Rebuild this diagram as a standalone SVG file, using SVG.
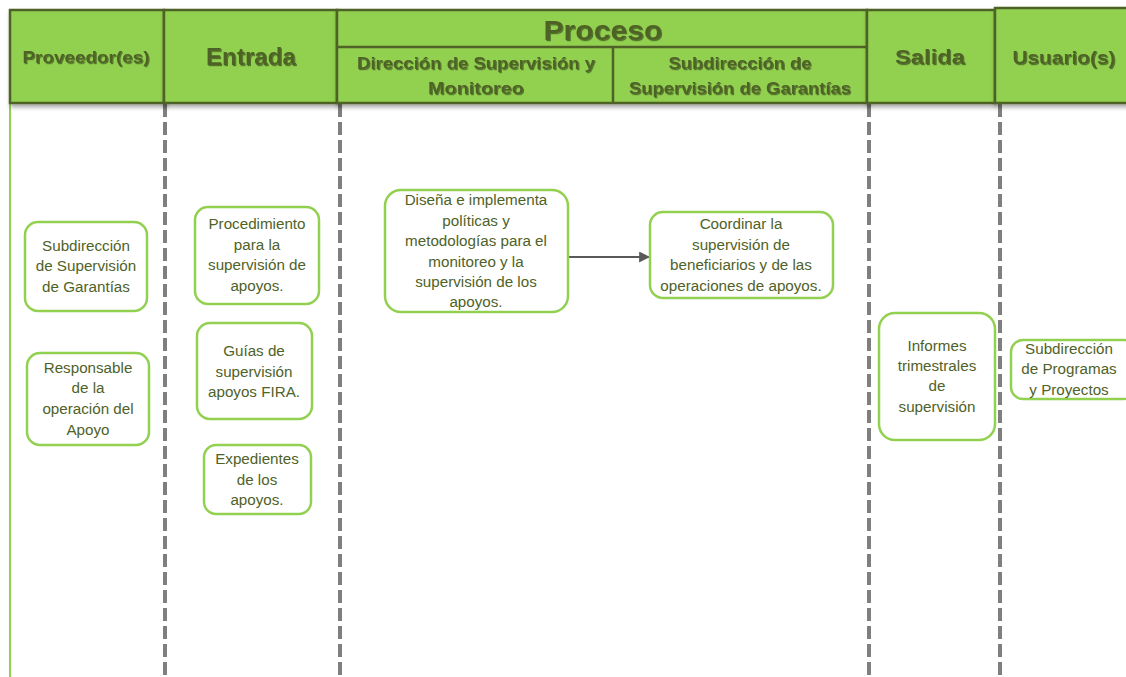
<svg xmlns="http://www.w3.org/2000/svg" width="1126" height="677" viewBox="0 0 1126 677">
<style>
.cell{fill:#92D050;stroke:#4F6228;stroke-width:2.5}
.ht{font-family:"Liberation Sans",Arial,sans-serif;font-weight:bold;fill:#4F6228;text-anchor:middle}
.node rect{fill:#fff;stroke:#92D050;stroke-width:2.5}
.nt{font-family:"Liberation Sans",Arial,sans-serif;font-size:15.2px;fill:#4F6228;text-anchor:middle}
.lane{stroke:#7F7F7F;stroke-width:4;stroke-dasharray:13 5;fill:none}
.conn{stroke:#595959;stroke-width:2;fill:none}
</style>
<defs>
<filter id="cs" x="-5%" y="-10%" width="110%" height="130%">
<feDropShadow dx="1.5" dy="3" stdDeviation="2" flood-color="#000" flood-opacity="0.35"/>
</filter>
<filter id="ts" x="-5%" y="-20%" width="110%" height="150%">
<feDropShadow dx="1" dy="1.2" stdDeviation="0.7" flood-color="#000" flood-opacity="0.45"/>
</filter>
<marker id="ah" viewBox="0 0 10 10" refX="9" refY="5" markerWidth="5.5" markerHeight="5.5" orient="auto" markerUnits="strokeWidth">
<path d="M0,0 L10,5 L0,10 z" fill="#595959"/>
</marker>
</defs>
<rect width="1126" height="677" fill="#fff"/>

<g id="lanes">
<line x1="10" y1="103" x2="10" y2="677" stroke="#92D050" stroke-width="2"/>
<line class="lane" x1="165" y1="104" x2="165" y2="677"/>
<line class="lane" x1="340" y1="104" x2="340" y2="677"/>
<line class="lane" x1="869" y1="104" x2="869" y2="677"/>
<line class="lane" x1="1000" y1="104" x2="1000" y2="677"/>
</g>

<g id="header">
<g id="h-proveedor">
<rect class="cell" filter="url(#cs)" x="10" y="10" width="154" height="93"/>
<text class="ht" filter="url(#ts)" x="86" y="63" font-size="17" textLength="127" lengthAdjust="spacingAndGlyphs">Proveedor(es)</text>
</g>
<g id="h-entrada">
<rect class="cell" filter="url(#cs)" x="164" y="10" width="173" height="93"/>
<text class="ht" filter="url(#ts)" x="251" y="65" font-size="23" textLength="90" lengthAdjust="spacingAndGlyphs">Entrada</text>
</g>
<g id="h-proceso">
<rect class="cell" filter="url(#cs)" x="337" y="10" width="530" height="93"/>
<line x1="337" y1="47" x2="867" y2="47" stroke="#4F6228" stroke-width="2.5"/>
<line x1="613" y1="47" x2="613" y2="103" stroke="#4F6228" stroke-width="2.5"/>
<text class="ht" filter="url(#ts)" x="603" y="40" font-size="28" textLength="119" lengthAdjust="spacingAndGlyphs">Proceso</text>
<text class="ht" filter="url(#ts)" x="476" y="69" font-size="16" textLength="238" lengthAdjust="spacingAndGlyphs">Dirección de Supervisión y</text>
<text class="ht" filter="url(#ts)" x="476" y="94" font-size="16" textLength="96" lengthAdjust="spacingAndGlyphs">Monitoreo</text>
<text class="ht" filter="url(#ts)" x="740" y="69" font-size="16" textLength="143" lengthAdjust="spacingAndGlyphs">Subdirección de</text>
<text class="ht" filter="url(#ts)" x="740" y="94" font-size="16" textLength="222" lengthAdjust="spacingAndGlyphs">Supervisión de Garantías</text>
</g>
<g id="h-salida">
<rect class="cell" filter="url(#cs)" x="867" y="10" width="128" height="93"/>
<text class="ht" filter="url(#ts)" x="930" y="64" font-size="21" textLength="70" lengthAdjust="spacingAndGlyphs">Salida</text>
</g>
<g id="h-usuario">
<rect class="cell" filter="url(#cs)" x="995" y="8" width="140" height="95"/>
<text class="ht" filter="url(#ts)" x="1064" y="64" font-size="19" textLength="103" lengthAdjust="spacingAndGlyphs">Usuario(s)</text>
</g>
</g>

<g id="connectors">
<line class="conn" x1="568" y1="257" x2="649" y2="257" marker-end="url(#ah)"/>
</g>

<g id="n-subdireccion-garantias" class="node">
<rect x="25" y="222" width="122" height="89" rx="13"/>
<text class="nt" x="86" y="251">Subdirección</text>
<text class="nt" x="86" y="271">de Supervisión</text>
<text class="nt" x="86" y="292">de Garantías</text>
</g>
<g id="n-responsable" class="node">
<rect x="27" y="353" width="122" height="92" rx="13"/>
<text class="nt" x="88" y="373">Responsable</text>
<text class="nt" x="88" y="393">de la</text>
<text class="nt" x="88" y="414">operación del</text>
<text class="nt" x="88" y="435">Apoyo</text>
</g>
<g id="n-procedimiento" class="node">
<rect x="195" y="207" width="124" height="97" rx="13"/>
<text class="nt" x="257" y="229">Procedimiento</text>
<text class="nt" x="257" y="250">para la</text>
<text class="nt" x="257" y="270">supervisión de</text>
<text class="nt" x="257" y="291">apoyos.</text>
</g>
<g id="n-guias" class="node">
<rect x="197" y="323" width="115" height="96" rx="13"/>
<text class="nt" x="254" y="356">Guías de</text>
<text class="nt" x="254" y="377">supervisión</text>
<text class="nt" x="254" y="397">apoyos FIRA.</text>
</g>
<g id="n-expedientes" class="node">
<rect x="204" y="445" width="107" height="69" rx="12"/>
<text class="nt" x="257" y="464">Expedientes</text>
<text class="nt" x="257" y="485">de los</text>
<text class="nt" x="257" y="505">apoyos.</text>
</g>
<g id="n-disena" class="node">
<rect x="385" y="190" width="183" height="122" rx="16"/>
<text class="nt" x="476" y="205">Diseña e implementa</text>
<text class="nt" x="476" y="226">políticas y</text>
<text class="nt" x="476" y="246">metodologías para el</text>
<text class="nt" x="476" y="267">monitoreo y la</text>
<text class="nt" x="476" y="287">supervisión de los</text>
<text class="nt" x="476" y="307">apoyos.</text>
</g>
<g id="n-coordinar" class="node">
<rect x="650" y="212" width="183" height="86" rx="13"/>
<text class="nt" x="741" y="229">Coordinar la</text>
<text class="nt" x="741" y="250">supervisión de</text>
<text class="nt" x="741" y="270">beneficiarios y de las</text>
<text class="nt" x="741" y="291">operaciones de apoyos.</text>
</g>
<g id="n-informes" class="node">
<rect x="879" y="313" width="116" height="127" rx="16"/>
<text class="nt" x="937" y="351">Informes</text>
<text class="nt" x="937" y="371">trimestrales</text>
<text class="nt" x="937" y="391">de</text>
<text class="nt" x="937" y="412">supervisión</text>
</g>
<g id="n-subdireccion-programas" class="node">
<rect x="1011" y="340" width="125" height="59" rx="12"/>
<text class="nt" x="1069" y="354">Subdirección</text>
<text class="nt" x="1069" y="374">de Programas</text>
<text class="nt" x="1069" y="395">y Proyectos</text>
</g>
</svg>
